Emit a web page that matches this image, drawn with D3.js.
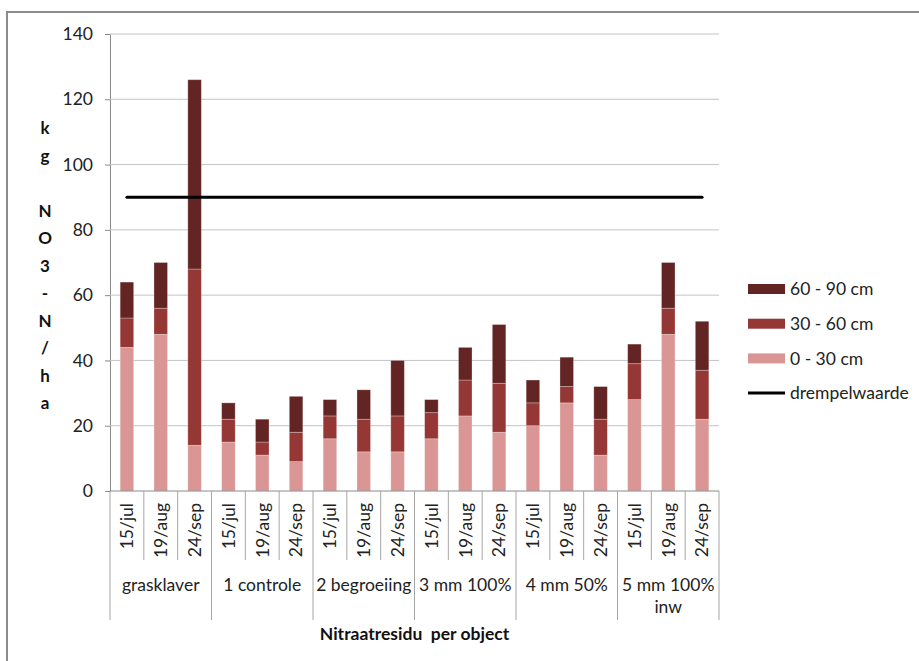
<!DOCTYPE html>
<html>
<head>
<meta charset="utf-8">
<script src="https://cdn.jsdelivr.net/npm/d3@7"></script>
<style>
    body { margin: 0; background: #fff; }
    svg { display: block; font-family: Lato, "Open Sans", sans-serif; }
</style>
</head>
<body>
<svg id="chart" width="919" height="661"></svg>
<script>
// data (kg NO3-N/ha per soil layer)
const dates = ["15/jul", "19/aug", "24/sep"];
const groups = ["grasklaver", "1 controle", "2 begroeiing", "3 mm 100%", "4 mm 50%", "5 mm 100%\ninw"];
const laag0_30 = [44, 48, 14, 15, 11, 9, 16, 12, 12, 16, 23, 18, 20, 27, 11, 28, 48, 22];
const laag30_60 = [9, 8, 54, 7, 4, 9, 7, 10, 11, 8, 11, 15, 7, 5, 11, 11, 8, 15];
const laag60_90 = [11, 14, 58, 5, 7, 11, 5, 9, 17, 4, 10, 18, 7, 9, 10, 6, 14, 15];
const drempelwaarde = 90;
const yTicks = [0, 20, 40, 60, 80, 100, 120, 140];
const yTitle = ["k", "g", "", "N", "O", "3", "-", "N", "/", "h", "a"];
const xTitle = "Nitraatresidu  per object";

const seriesNames = ["0 - 30 cm", "30 - 60 cm", "60 - 90 cm"];
const colors = ["#d99694", "#953735", "#632523"];

let dimensions = {
    width: 919, height: 661,
    margin: { top: 34, bottom: 170, right: 200, left: 110 }
};
const plotBottom = dimensions.height - dimensions.margin.bottom; // 491
const plotRight = dimensions.width - dimensions.margin.right;    // 719

var svg = d3.select("#chart");

// outer frame (only top and left edges visible)
svg.append("path")
    .attr("d", "M7,661 V12 H919")
    .attr("fill", "none")
    .attr("stroke", "#8c8c8c")
    .attr("stroke-width", 2);

// one row per bar
let rows = [];
groups.forEach((g, gi) => {
    dates.forEach((d, di) => {
        let i = gi * dates.length + di;
        rows.push({ key: i, group: g, date: d, l0: laag0_30[i], l1: laag30_60[i], l2: laag60_90[i] });
    });
});

var x = d3.scaleBand()
    .domain(rows.map(d => d.key))
    .range([dimensions.margin.left, plotRight])
    .paddingInner(0.6)
    .paddingOuter(0.3);

var y = d3.scaleLinear()
    .domain([0, 140])
    .range([plotBottom, dimensions.margin.top]);

// gridlines + y axis
var yAxis = svg.append("g")
    .attr("transform", "translate(" + dimensions.margin.left + ",0)")
    .call(d3.axisLeft(y).tickValues(yTicks).tickSize(5).tickPadding(12));
yAxis.select(".domain").attr("stroke", "#8a8a8a");
yAxis.selectAll(".tick line").attr("stroke", "#8a8a8a");
yAxis.selectAll(".tick text")
    .attr("font-size", "17.5px")
    .attr("fill", "#222")
    .attr("font-family", "Lato, sans-serif");

svg.append("g")
    .selectAll("line")
    .data(yTicks.filter(t => t > 0))
    .join("line")
    .attr("x1", dimensions.margin.left)
    .attr("x2", plotRight)
    .attr("y1", d => y(d))
    .attr("y2", d => y(d))
    .attr("stroke", "#c4c4c4")
    .attr("stroke-width", 1);

// stacked bars
var stack = d3.stack().keys(["l0", "l1", "l2"]);
var stacked = stack(rows);

svg.append("g")
    .selectAll("g")
    .data(stacked)
    .join("g")
    .attr("fill", (d, i) => colors[i])
    .selectAll("rect")
    .data(d => d)
    .join("rect")
    .attr("x", d => x(d.data.key))
    .attr("width", x.bandwidth())
    .attr("y", d => y(d[1]))
    .attr("height", d => y(d[0]) - y(d[1]))
    .attr("stroke", "rgba(255,255,255,0.35)")
    .attr("stroke-width", 0.8);

// threshold line
svg.append("path")
    .datum(rows)
    .attr("fill", "none")
    .attr("stroke", "#000")
    .attr("stroke-width", 3)
    .attr("stroke-linecap", "round")
    .attr("d", d3.line()
        .x(d => x(d.key) + x.bandwidth() / 2)
        .y(() => y(drempelwaarde)));

// x axis baseline and category dividers
var axisColor = "#a6a6a6";
svg.append("line")
    .attr("x1", dimensions.margin.left).attr("x2", plotRight)
    .attr("y1", plotBottom).attr("y2", plotBottom)
    .attr("stroke", "#8a8a8a");

let step = x.step();
let dividers = d3.range(rows.length + 1);
svg.append("g")
    .selectAll("line")
    .data(dividers)
    .join("line")
    .attr("x1", i => dimensions.margin.left + i * step)
    .attr("x2", i => dimensions.margin.left + i * step)
    .attr("y1", plotBottom)
    .attr("y2", i => (i % dates.length == 0) ? 620 : 560)
    .attr("stroke", axisColor)
    .attr("stroke-width", 1);

// date labels (rotated)
svg.append("g")
    .selectAll("text")
    .data(rows)
    .join("text")
    .attr("transform", d => "translate(" + (x(d.key) + x.bandwidth() / 2) + ",503) rotate(-90)")
    .attr("text-anchor", "end")
    .attr("dy", "0.36em")
    .attr("font-size", "17.5px")
    .attr("fill", "#222")
    .text(d => d.date);

// group labels
var groupText = svg.append("g")
    .selectAll("text")
    .data(groups)
    .join("text")
    .attr("x", (d, i) => dimensions.margin.left + (i + 0.5) * step * dates.length)
    .attr("y", 591)
    .attr("text-anchor", "middle")
    .attr("font-size", "17.5px")
    .attr("fill", "#222");
groupText.selectAll("tspan")
    .data(d => d.split("\n"))
    .join("tspan")
    .attr("x", function () { return d3.select(this.parentNode).attr("x"); })
    .attr("dy", (d, i) => i == 0 ? 0 : 22)
    .text(d => d);

// axis titles
svg.append("text")
    .attr("x", (dimensions.margin.left + plotRight) / 2)
    .attr("y", 640)
    .attr("text-anchor", "middle")
    .attr("font-size", "17.5px")
    .attr("font-weight", "bold")
    .attr("fill", "#111")
    .attr("xml:space", "preserve")
    .style("white-space", "pre")
    .text(xTitle);

svg.append("g")
    .selectAll("text")
    .data(yTitle)
    .join("text")
    .attr("x", 45)
    .attr("y", (d, i) => 134 + i * 27.5)
    .attr("text-anchor", "middle")
    .attr("font-size", "17px")
    .attr("font-weight", "bold")
    .attr("fill", "#111")
    .text(d => d);

// legend
let legendItems = [
    { name: seriesNames[2], color: colors[2], type: "rect" },
    { name: seriesNames[1], color: colors[1], type: "rect" },
    { name: seriesNames[0], color: colors[0], type: "rect" },
    { name: "drempelwaarde", color: "#000", type: "line" }
];
var legend = svg.append("g")
    .selectAll("g")
    .data(legendItems)
    .join("g")
    .attr("transform", (d, i) => "translate(748," + (289 + i * 34.7) + ")");

legend.filter(d => d.type == "rect")
    .append("rect")
    .attr("x", 0).attr("y", -5)
    .attr("width", 37).attr("height", 10)
    .attr("fill", d => d.color);

legend.filter(d => d.type == "line")
    .append("line")
    .attr("x1", 0).attr("x2", 37)
    .attr("stroke", "#000")
    .attr("stroke-width", 3);

legend.append("text")
    .attr("x", 42)
    .attr("dy", "0.35em")
    .attr("font-size", "17.5px")
    .attr("fill", "#222")
    .text(d => d.name);
</script>
</body>
</html>
